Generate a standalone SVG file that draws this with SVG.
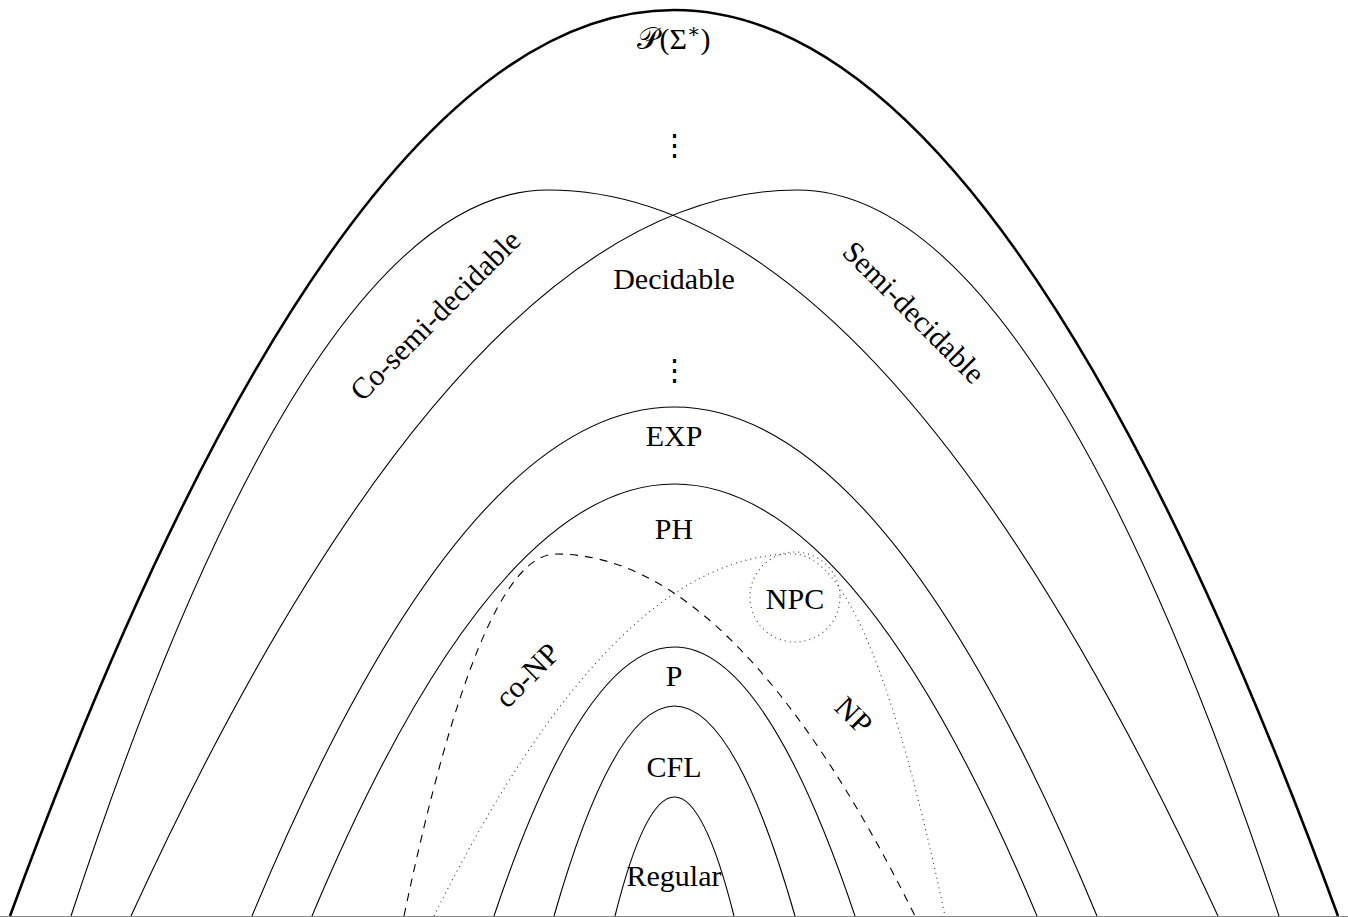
<svg xmlns="http://www.w3.org/2000/svg" width="1348" height="917" viewBox="0 0 1348 917">
<style>
.c{fill:none;stroke:#000;stroke-width:1.1}
.thick{fill:none;stroke:#000;stroke-width:2.6}
.dash{fill:none;stroke:#000;stroke-width:1.1;stroke-dasharray:8 7}
.dot{fill:none;stroke:#333;stroke-width:1.1;stroke-dasharray:1 4}
text{font-family:"Liberation Serif","DejaVu Serif",serif;font-size:30px;fill:#000;text-anchor:middle}
.vd{font-family:"DejaVu Serif",serif;font-size:29px}
</style>
<rect width="1348" height="917" fill="#fff"/>
<g id="connectors">
<line x1="0" y1="916.5" x2="1348" y2="916.5" stroke="#888" stroke-width="1"/>
</g>
<g id="all-languages"><path class="thick" d="M10,916 Q342,10 674,10 Q1006,10 1338,916"/>
<text x="674" y="49">𝒫(Σ<tspan dy="-11" font-size="20">∗</tspan><tspan dy="11">)</tspan></text>
<text class="vd" x="674" y="155">⋮</text></g>
<g id="co-semi-decidable"><path class="c" d="M71,916 Q309.5,190 548,190 Q883,190 1218,916"/>
<text transform="translate(436,316) rotate(-45)" x="0" y="9">Co-semi-decidable</text></g>
<g id="semi-decidable"><path class="c" d="M131,916 Q464,190 797,190 Q1038,190 1279,916"/>
<text transform="translate(913,313) rotate(45)" x="0" y="9">Semi-decidable</text></g>
<g id="decidable"><text x="674" y="289">Decidable</text>
<text class="vd" x="674" y="380">⋮</text></g>
<g id="exp"><path class="c" d="M252,916 Q463.25,407 674.5,407 Q885.75,407 1097,916"/>
<text x="674" y="446">EXP</text></g>
<g id="ph"><path class="c" d="M312,916 Q493.25,484 674.5,484 Q855.75,484 1037,916"/>
<text x="674" y="539">PH</text></g>
<g id="co-np"><path class="dash" d="M404,916 Q480,554 556,554 Q735.5,554 915,916"/>
<text transform="translate(528,676) rotate(-45)" x="0" y="9">co-NP</text></g>
<g id="np"><path class="dot" d="M434,916 Q613.5,554 793,554 Q869,554 945,916"/>
<text transform="translate(853,716) rotate(45)" x="0" y="9">NP</text></g>
<g id="npc"><circle class="dot" cx="795" cy="597" r="45"/>
<text x="795" y="609">NPC</text></g>
<g id="p"><path class="c" d="M494,916 Q584.25,647 674.5,647 Q764.75,647 855,916"/>
<text x="674" y="686">P</text></g>
<g id="cfl"><path class="c" d="M554,916 Q614.25,706 674.5,706 Q734.75,706 795,916"/>
<text x="674" y="777">CFL</text></g>
<g id="regular"><path class="c" d="M615,916 Q644.75,797 674.5,797 Q704.25,797 734,916"/>
<text x="674" y="886">Regular</text></g>
</svg>
